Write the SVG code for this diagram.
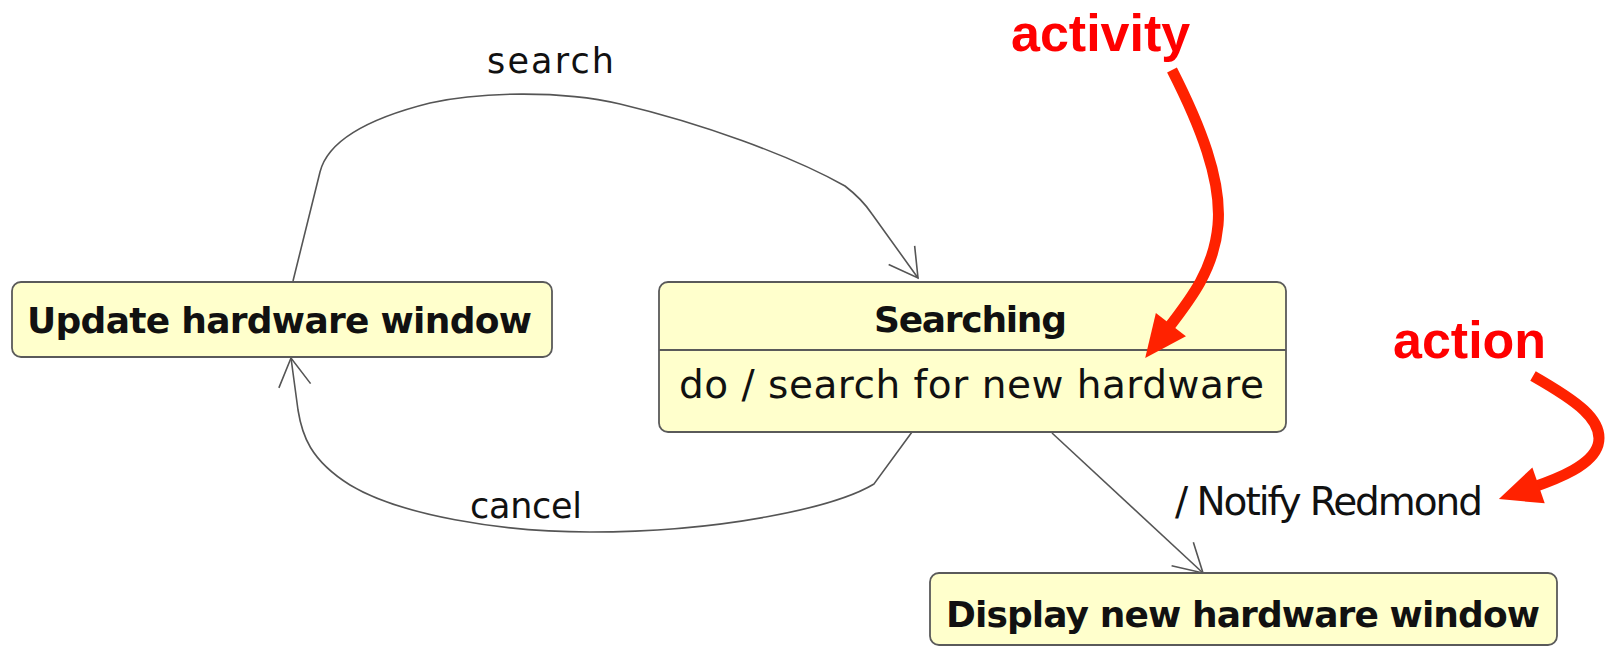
<svg xmlns="http://www.w3.org/2000/svg" width="1605" height="646" viewBox="0 0 1605 646">
<style>
.box{fill:#ffffcc;stroke:#5a5a5a;stroke-width:1.8}
.div{stroke:#5a5a5a;stroke-width:1.8}
.title{font-family:"DejaVu Sans",sans-serif;font-weight:bold;font-size:36px;fill:#111}
.body{font-family:"DejaVu Sans",sans-serif;font-size:39px;fill:#111}
.lbl{font-family:"DejaVu Sans",sans-serif;font-size:35px;fill:#111}
.conn{fill:none;stroke:#555;stroke-width:1.6;marker-end:url(#open)}
.red{fill:none;stroke:#ff2200;stroke-width:11;marker-end:url(#redhead)}
.note{font-family:"Liberation Sans",Arial,sans-serif;font-weight:bold;font-size:52px;fill:#ff0000}
</style>
<defs>
<marker id="open" viewBox="0 0 28 32" refX="28" refY="16" markerWidth="28" markerHeight="32" markerUnits="userSpaceOnUse" orient="auto" overflow="visible">
<path d="M0,0 L28,16 L0,32" fill="none" stroke="#555" stroke-width="1.6"/>
</marker>
<marker id="redhead" viewBox="0 0 42 38" refX="8" refY="19" markerWidth="42" markerHeight="38" markerUnits="userSpaceOnUse" orient="auto" overflow="visible">
<path d="M0,0 L42,19 L0,38 Z" fill="#ff2200"/>
</marker>
</defs>
<rect width="1605" height="646" fill="#ffffff"/>
<g id="connectors">
<path class="conn" d="M293,281 L320,172 C328,140 370,118 430,103 C480,92 560,90 620,104 C700,123 790,155 845,186 C858,196 866,205 872,214 L918,278"/>
<path class="conn" d="M912,432 L874,484 C834,508 720,532 590,532 C500,532 400,515 350,485 C310,460 302,435 298,410 L291,358"/>
<path class="conn" d="M1052,433 L1203,573"/>
<text class="lbl" x="487" y="73" textLength="127">search</text>
<text class="lbl" x="470" y="518" textLength="112">cancel</text>
<text class="body" x="1175" y="515" textLength="308">/ Notify Redmond</text>
</g>
<g id="update">
<rect class="box" x="12" y="282" width="540" height="75" rx="9"/>
<text class="title" x="27" y="333" textLength="505">Update hardware window</text>
</g>
<g id="searching">
<rect class="box" x="659" y="282" width="627" height="150" rx="9"/>
<line class="div" x1="659" y1="350" x2="1286" y2="350"/>
<text class="title" x="874" y="332" textLength="193">Searching</text>
<text class="body" x="679" y="398" textLength="585">do / search for new hardware</text>
</g>
<g id="display">
<rect class="box" x="930" y="573" width="627" height="72" rx="9"/>
<text class="title" x="946" y="627" textLength="594">Display new hardware window</text>
</g>
<g id="annotations">
<text class="note" x="1011" y="51">activity</text>
<path class="red" d="M1172,70 C1200,125 1222,180 1218,225 C1214,270 1190,300 1166,331"/>
<text class="note" x="1393" y="358" font-size="51">action</text>
<path class="red" d="M1533,376 C1575,400 1605,420 1598,445 C1592,465 1560,478 1531,488"/>
</g>
</svg>
